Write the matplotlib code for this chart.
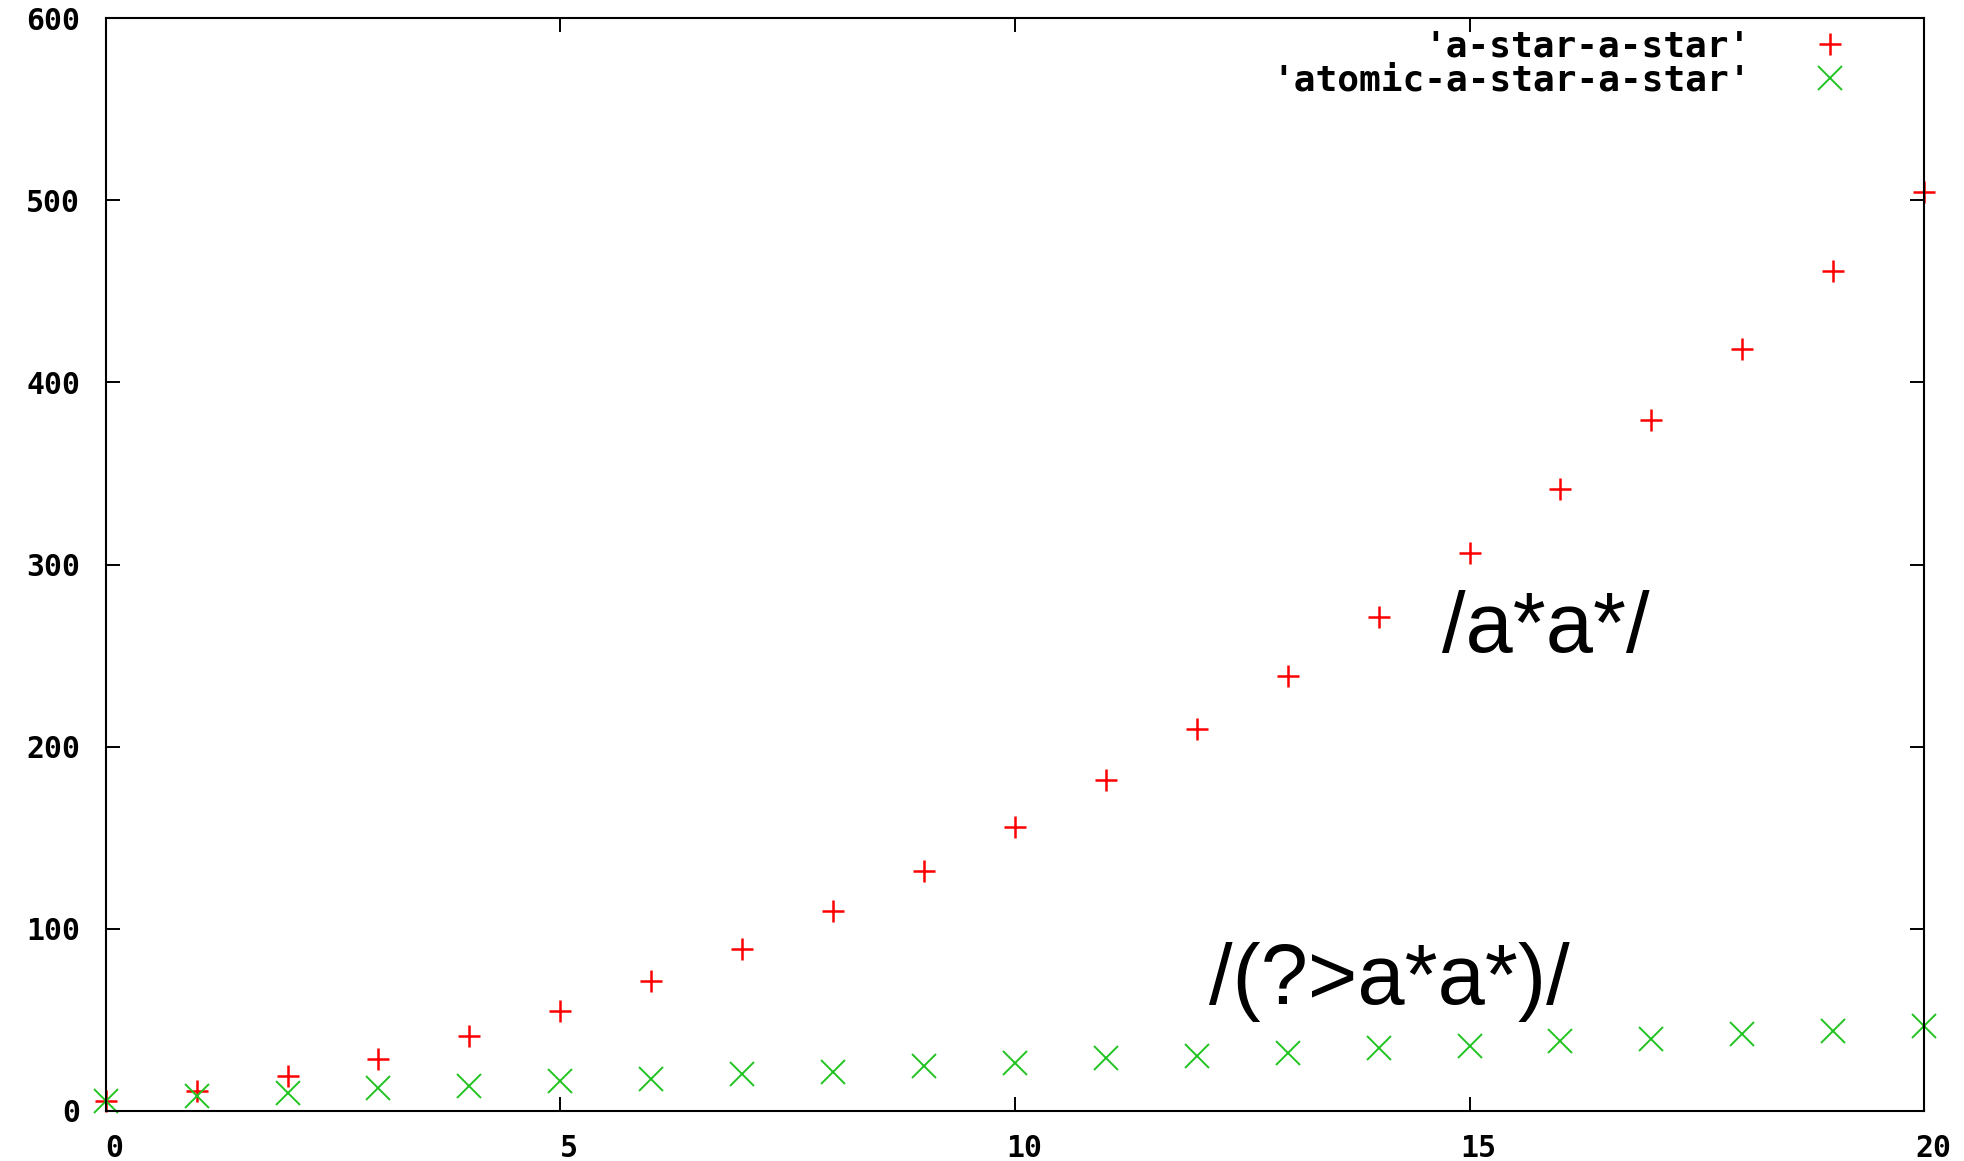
import matplotlib
matplotlib.use("Agg")
import matplotlib.pyplot as plt
import matplotlib.transforms as mtransforms

# string length n vs. time
n = list(range(21))
a_star_a_star = [5.5, 11.1, 19.3, 28.6, 41.2, 54.8, 71.2, 89.0, 109.6, 131.7, 155.8,
                 181.9, 209.4, 239.0, 271.4, 306.5, 341.6, 379.5, 418.6, 461.0, 504.8]
atomic_a_star_a_star = [5.2, 8.0, 9.6, 12.3, 13.7, 16.2, 17.7, 20.3, 21.5, 24.5, 26.0,
                        28.8, 30.2, 31.8, 34.4, 35.5, 38.5, 39.5, 42.3, 43.8, 46.5]

x_ticks = [0, 5, 10, 15, 20]
y_ticks = [0, 100, 200, 300, 400, 500, 600]

plt.rcParams['font.family'] = ['DejaVu Sans Mono', 'DejaVu Sans']
plt.rcParams['font.weight'] = 'bold'

fig = plt.figure(figsize=(19.65, 11.61), dpi=100)
ax = fig.add_axes([0.0538, 0.0433, 0.9254, 0.9409])

ax.plot(n, a_star_a_star, ls='none', marker='+', ms=16.5, mew=1.8,
        color='#ff0000', label="'a-star-a-star'", clip_on=False, zorder=3)
ax.plot(n, atomic_a_star_a_star, ls='none', marker='x', ms=17, mew=1.4,
        color='#22c422', label="'atomic-a-star-a-star'", clip_on=False, zorder=3)

ax.set_xlim(0, 20)
ax.set_ylim(0, 600)
ax.set_xticks(x_ticks)
ax.set_yticks(y_ticks)
ax.tick_params(direction='in', length=10, width=1.4, top=True, right=True,
               labelsize=21.5, color='black')
ax.tick_params(axis='x', pad=16.5)
ax.tick_params(axis='y', pad=18.5)
for s in ax.spines.values():
    s.set_linewidth(1.5)
    s.set_zorder(4)

# gnuplot puts the x labels a little right of the ticks
shift = mtransforms.ScaledTranslation(9 / 100, 0, fig.dpi_scale_trans)
for lab in ax.get_xticklabels():
    lab.set_transform(lab.get_transform() + shift)

ax.text(14.70, 251.9, '/a*a*/', fontsize=61, family='Liberation Sans',
        weight='normal', ha='left', va='baseline')
ax.text(12.13, 58.6, '/(?>a*a*)/', fontsize=61, family='Liberation Sans',
        weight='normal', ha='left', va='baseline')

ax.legend(loc='upper right', bbox_to_anchor=(0.968, 0.990), frameon=False,
          markerfirst=False, fontsize=26, handlelength=2.0, handletextpad=1.19,
          labelspacing=0.0, borderpad=0, borderaxespad=0, numpoints=1)

fig.savefig('out.png', dpi=100)
